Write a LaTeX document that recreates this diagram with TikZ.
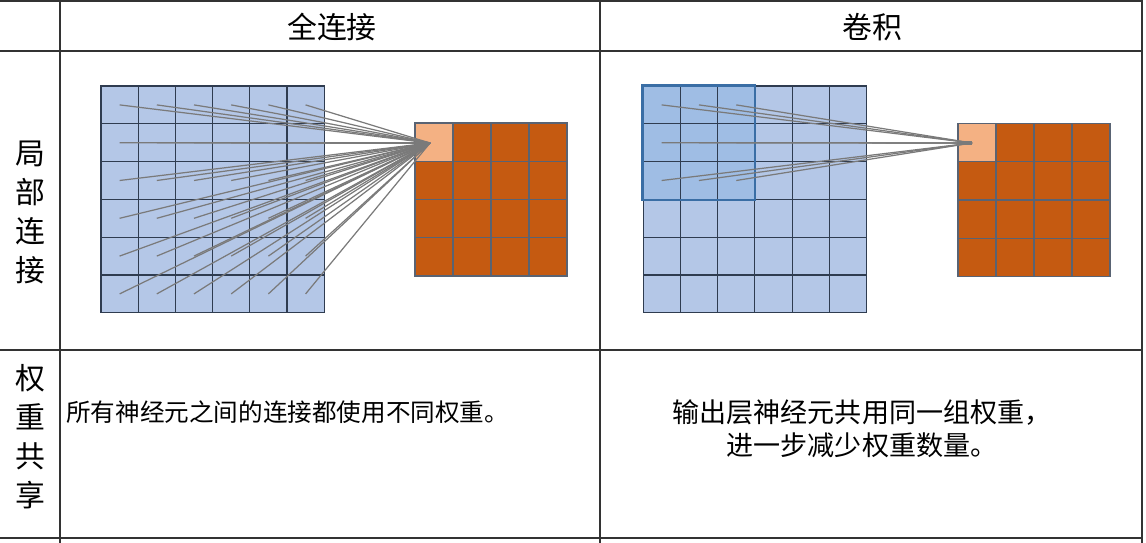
\documentclass[tikz,border=0pt]{standalone}
\usepackage{fontspec}
\newfontfamily\cjk{Noto Sans CJK SC}
\usepackage{tikz}
\usetikzlibrary{positioning}
\usetikzlibrary{calc}

\definecolor{inblue}{HTML}{B4C7E7}
\definecolor{hiblue}{HTML}{9FBDE4}
\definecolor{hibord}{HTML}{3A6EA5}
\definecolor{outdark}{HTML}{C55A11}
\definecolor{outlight}{HTML}{F4B183}
\definecolor{gridc}{HTML}{2F3C50}
\definecolor{wgray}{HTML}{7A7A7A}
\definecolor{rulec}{HTML}{333333}

\begin{document}
\begin{tikzpicture}[x=0.02cm, y=-0.02cm,
    rule/.style={draw=rulec, line width=1.1pt},
    incell/.style={rectangle, draw=gridc, fill=inblue, line width=0.6pt, minimum width=0.744cm, minimum height=0.756cm, inner sep=0pt},
    outcell/.style={rectangle, draw=gridc!80, fill=outdark, line width=0.6pt, minimum width=0.76cm, minimum height=0.765cm, inner sep=0pt},
    wline/.style={draw=wgray, line width=0.7pt},
    head/.style={font=\cjk\fontsize{17}{22.2}\selectfont, align=center, inner sep=0pt}]

          \useasboundingbox (0,0) rectangle (1146,543);

          % table
          \foreach \y in {1,51,350,538} \draw[rule] (0,\y) -- (1142,\y);
          \foreach \x in {60,600,1142} \draw[rule] (\x,0) -- (\x,543);

          \node[head] (h-fc) at (332,27) {全连接};
          \node[head] (h-cv) at (872,27) {卷积};
          \node[head] (r-loc) at (30,212) {局\\部\\连\\接};
          \node[head] (r-share) at (30,437) {权\\重\\共\\享};

          % fully connected
          \foreach \r in {1,...,6}
            \foreach \c in {1,...,6}
              \node[incell] (fc-\r-\c) at ({101+37.2*(\c-0.5)}, {86+37.8*(\r-0.5)}) {};

          \foreach \r in {1,...,4}
            \foreach \c in {1,...,4}
              \node[outcell] (fo-\r-\c) at ({415+38*(\c-0.5)}, {123+38.25*(\r-0.5)}) {};
          \node[outcell, fill=outlight] at (fo-1-1) {};

          \coordinate (fc-t) at (430,143);
          \foreach \r in {1,...,6}
            \foreach \c in {1,...,6}
              \draw[wline] (fc-\r-\c.center) -- (fc-t);

          % convolution
          \foreach \r in {1,...,6}
            \foreach \c in {1,...,6}
              \node[incell] (cv-\r-\c) at ({643+37.3*(\c-0.5)}, {86+37.8*(\r-0.5)}) {};
          \foreach \r in {1,2,3}
            \foreach \c in {1,2,3}
              \node[incell, fill=hiblue] at (cv-\r-\c) {};
          \draw[draw=hibord, line width=1.2pt] (cv-1-1.north west) rectangle (cv-3-3.south east);

          \foreach \r in {1,...,4}
            \foreach \c in {1,...,4}
              \node[outcell] (co-\r-\c) at ({958+38*(\c-0.5)}, {123+38.5*(\r-0.5)}) {};
          \node[outcell, fill=outlight] at (co-1-1) {};

          \coordinate (cv-t) at (972,143);
          \coordinate (cv-tail) at (957,143);
          \foreach \r in {1,2,3}
            \foreach \c in {1,2,3}
              \draw[wline] (cv-\r-\c.center) -- (cv-t);
          \draw[wline, line width=2.2pt] (cv-tail) -- (cv-t);

          % weight sharing
          \node[anchor=west, inner sep=0pt, font=\cjk\fontsize{14}{18}\selectfont] (t-fc) at (66,412) {所有神经元之间的连接都使用不同权重。};
          \node[align=center, inner sep=0pt, font=\cjk\fontsize{15.4}{18.8}\selectfont] (t-cv) at (862,429) {输出层神经元共用同一组权重，\\进一步减少权重数量。};
        \end{tikzpicture}
\end{document}
